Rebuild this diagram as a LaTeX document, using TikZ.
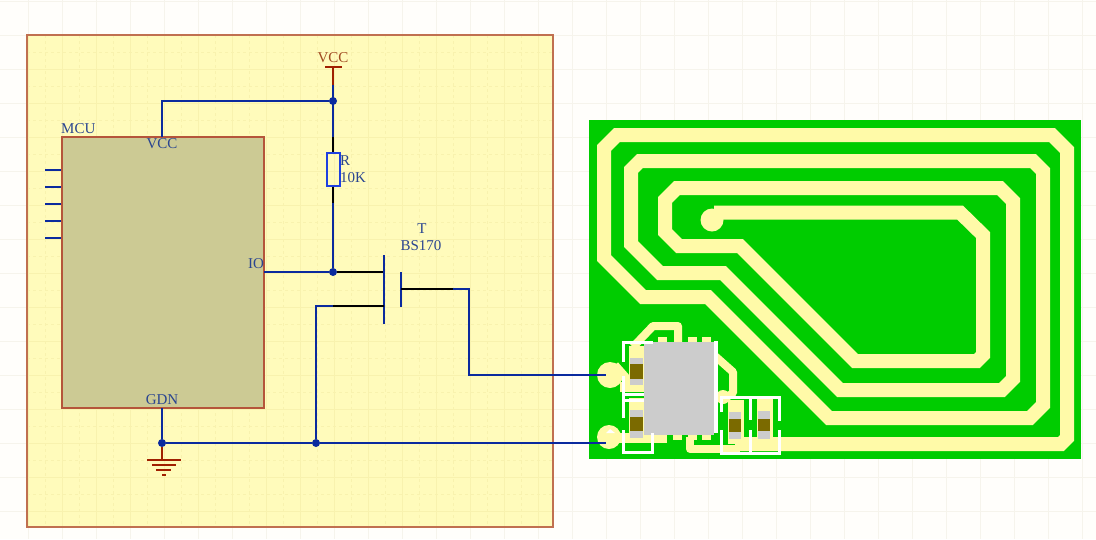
\documentclass[tikz,border=0pt]{standalone}
\usepackage{fontspec}
\setmainfont{Liberation Serif}
\definecolor{pagebg}{HTML}{FFFEFB}
\definecolor{pagegrid}{HTML}{F6F4EC}
\definecolor{sheetbg}{HTML}{FFFBBB}
\definecolor{sheetgrid}{HTML}{F8F2AE}
\definecolor{sheetline}{HTML}{C07050}
\definecolor{mcufill}{HTML}{CCCA94}
\definecolor{mculine}{HTML}{B5553A}
\definecolor{wireblue}{HTML}{0A2A9E}
\definecolor{resblue}{HTML}{1E40E0}
\definecolor{pwrred}{HTML}{A02000}
\definecolor{txtblue}{HTML}{2A4590}
\definecolor{txtred}{HTML}{A04A20}
\definecolor{pcbgreen}{HTML}{00CC00}
\definecolor{pcbtrace}{HTML}{FFFAA8}
\definecolor{chipgrey}{HTML}{CCCCCC}
\definecolor{capbrown}{HTML}{7B6A00}
\tikzset{
  x=1pt,y=-1pt,
  lbl/.style={font=\fontsize{15}{16}\selectfont,text=txtblue,inner sep=0pt},
  wire/.style={draw=wireblue,line width=2.4pt},
  lead/.style={draw=black,line width=2.4pt},
  pwr/.style={draw=pwrred,line width=2.2pt},
  junct/.style={circle,fill=wireblue,inner sep=0pt,minimum size=8pt},
  trace/.style={draw=pcbtrace,line width=14pt,line join=miter,line cap=butt},
  thintrace/.style={draw=pcbtrace,line width=8pt,line join=round},
  silk/.style={draw=white,line width=3pt},
  padfill/.style={fill=pcbtrace},
  capend/.style={fill=chipgrey},
  capmid/.style={fill=capbrown}
}
\newcommand{\capacitor}[5]{% x0 x1 greytop greybottom brown offset
  \fill[padfill] (#1-1,#3-12) rectangle (#2+3,#4+5);
  \fill[capend] (#1,#3) rectangle (#2,#4);
  \fill[capmid] (#1,#3+#5) rectangle (#2,#4-#5);
}
\begin{document}
\begin{tikzpicture}
\useasboundingbox (0,0) rectangle (1096,539);
\fill[pagebg] (0,0) rectangle (1096,539);
% page grid
\foreach \gx in {28,62,...,1096} \draw[pagegrid,line width=0.8pt] (\gx,0) -- (\gx,539);
\foreach \gy in {1,35,...,539} \draw[pagegrid,line width=0.8pt] (0,\gy) -- (1096,\gy);
% sheet
\fill[sheetbg] (27,35) rectangle (553,527);
\begin{scope}
\clip (27,35) rectangle (553,527);
\foreach \gx in {28,62,...,553} \draw[sheetgrid,line width=1pt] (\gx,35) -- (\gx,527);
\foreach \gy in {35,69,...,527} \draw[sheetgrid,line width=1pt] (27,\gy) -- (553,\gy);
\foreach \gx in {45,79,...,553} \draw[sheetgrid,line width=0.8pt,dashed] (\gx,35) -- (\gx,527);
\foreach \gy in {52,86,...,527} \draw[sheetgrid,line width=0.8pt,dashed] (27,\gy) -- (553,\gy);
\end{scope}
\draw[sheetline,line width=1.3pt] (27,35) rectangle (553,527);

% PCB
\fill[pcbgreen] (589,120) rectangle (1081,459);
% spiral antenna
\draw[trace] (735,444) -- (1061,444) -- (1067,438) -- (1067,150) -- (1052,135) -- (617,135) -- (604,148) -- (604,258) -- (643,297) -- (708,297) -- (829,418) -- (1030,418) -- (1043,405) -- (1043,171) -- (1033,161) -- (640,161) -- (631,170) -- (631,244) -- (660,273) -- (723,273) -- (840,390) -- (1002,390) -- (1013,379) -- (1013,201) -- (1000,188) -- (677,188) -- (665,200) -- (665,232) -- (679,246) -- (740,246) -- (855,361) -- (977,361) -- (983,355) -- (983,235) -- (960,212.5) -- (714,212.5);
\fill[pcbtrace] (712,220) circle (11.5);
% small traces around the chip
\draw[thintrace] (690,437) -- (690,449) -- (740,449);
\draw[thintrace] (678,342) -- (678,326) -- (653,326) -- (633,347);
\draw[thintrace] (715,356) -- (733,372) -- (733,393) -- (722,400);
\fill[pcbtrace] (723,397) circle (7);
\fill[pcbtrace] (610,375) circle (13);
\fill[pcbtrace] (609,437) circle (12);
\fill[white] (606,433) -- (610,429) -- (615,433) -- cycle;
\fill[padfill] (620,382) rectangle (648,392);
\fill[padfill] (618,433) rectangle (667,443);
\draw[thintrace] (615,365) -- (630,382);
\foreach \tx in {658,688,702} \fill[padfill] (\tx,337) rectangle (\tx+9,343);
\foreach \tx in {673,688,702} \fill[padfill] (\tx,434) rectangle (\tx+9,440);
% components
\capacitor{630}{643}{358}{385}{6}
\capacitor{630}{643}{410}{438}{7}
\capacitor{729}{741}{412}{439}{7}
\capacitor{758}{770}{411}{439}{8}
\fill[chipgrey] (644,342) rectangle (714,435);
% silkscreen
\draw[silk] (653,342) -- (623,342) -- (623,362);
\draw[silk] (623,376) -- (623,418);
\draw[silk] (623,430) -- (623,452) -- (652,452) -- (652,433);
\draw[silk] (623,394) -- (644,394);
\draw[silk] (623,400) -- (644,400);
\fill[white] (714,341) rectangle (718,433);
\draw[silk] (721,412) -- (721,397) -- (779,397) -- (779,421);
\draw[silk] (750,397) -- (750,420);
\draw[silk] (721,430) -- (721,453) -- (779,453) -- (779,430);
\draw[silk] (750,430) -- (750,453);

% schematic nodes
\node[draw=mculine,fill=mcufill,line width=1.2pt,minimum width=202pt,minimum height=271pt,inner sep=0pt] (mcu) at (163,272.5) {};
\node[lbl,anchor=south west] (mculabel) at (61,134) {MCU};
\node[lbl] (pinvcc) at (162,144) {VCC};
\node[lbl] (pinio) at (256,264) {IO};
\node[lbl] (pingnd) at (162,400) {GDN};
\node[lbl,text=txtred] (vcclabel) at (333,58) {VCC};
\node[draw=resblue,line width=2pt,minimum width=13pt,minimum height=33pt,inner sep=0pt] (res) at (333,169) {};
\node[lbl,anchor=west] (resname) at (340,161) {R};
\node[lbl,anchor=west] (resval) at (340,178) {10K};
\node[lbl] (tname) at (422,229) {T};
\node[lbl] (tval) at (421,246) {BS170};

\coordinate (vcctop) at (333,67);
\coordinate (vccl) at (325,67);
\coordinate (vccr) at (342,67);
\coordinate (vccend) at (333,85);
\coordinate (resupper) at (333,137);
\coordinate (reslower) at (333,203);
\coordinate (mcuvcc) at (162,137);
\coordinate (mcuvccup) at (162,101);
\coordinate (mcugnd) at (162,408);
\coordinate (mcuio) at (264,272);
\coordinate (gatetop) at (384,255);
\coordinate (gatebot) at (384,324);
\coordinate (gatein) at (384,272);
\coordinate (srcin) at (384,306);
\coordinate (srcblue) at (333,306);
\coordinate (srcturn) at (316,306);
\coordinate (plateA) at (401,272);
\coordinate (plateB) at (401,307);
\coordinate (plateM) at (401,289);
\coordinate (drainblue) at (453,289);
\coordinate (drainturn) at (469,289);
\coordinate (draindown) at (469,375);
\coordinate (padA) at (606,375);
\coordinate (padB) at (606,443);
\coordinate (gndbar) at (162,460);

\node[junct] (jvcc) at (333,101) {};
\node[junct] (jio) at (333,272) {};
\node[junct] (jgnd) at (162,443) {};
\node[junct] (jsrc) at (316,443) {};

% wires
\draw[pwr] (vccl) -- (vccr);
\draw[pwr] (vcctop) -- (vccend);
\draw[wire] (vccend) -- (resupper);
\draw[wire] (resupper) -- (jvcc);
\draw[wire] (mcuvcc) -- (mcuvccup) -- (jvcc);
\draw[lead] (resupper) -- (res.north);
\draw[lead] (res.south) -- (reslower);
\draw[wire] (reslower) -- (jio);
\draw[wire] (mcuio) -- (jio);
\draw[lead] (jio) -- (gatein);
\draw[wire] (gatetop) -- (gatebot);
\draw[wire] (plateA) -- (plateB);
\draw[lead] (srcin) -- (srcblue);
\draw[wire] (srcblue) -- (srcturn) -- (jsrc);
\draw[lead] (plateM) -- (drainblue);
\draw[wire] (drainblue) -- (drainturn) -- (draindown) -- (padA);
\draw[wire] (mcugnd) -- (jgnd);
\draw[wire] (jgnd) -- (jsrc);
\draw[wire] (jsrc) -- (padB);
\draw[pwr] (jgnd) -- (gndbar);
\draw[pwr] (147,460) -- (181,460);
\draw[pwr] (152,465) -- (176,465);
\draw[pwr] (156,470) -- (171,470);
\draw[pwr] (162,475) -- (166,475);
\foreach \sy in {170,187,204,221,238} {
  \coordinate (stub\sy) at (45,\sy);
  \draw[wire] (stub\sy) -- (mcu.west |- stub\sy);
}
\end{tikzpicture}
\end{document}
